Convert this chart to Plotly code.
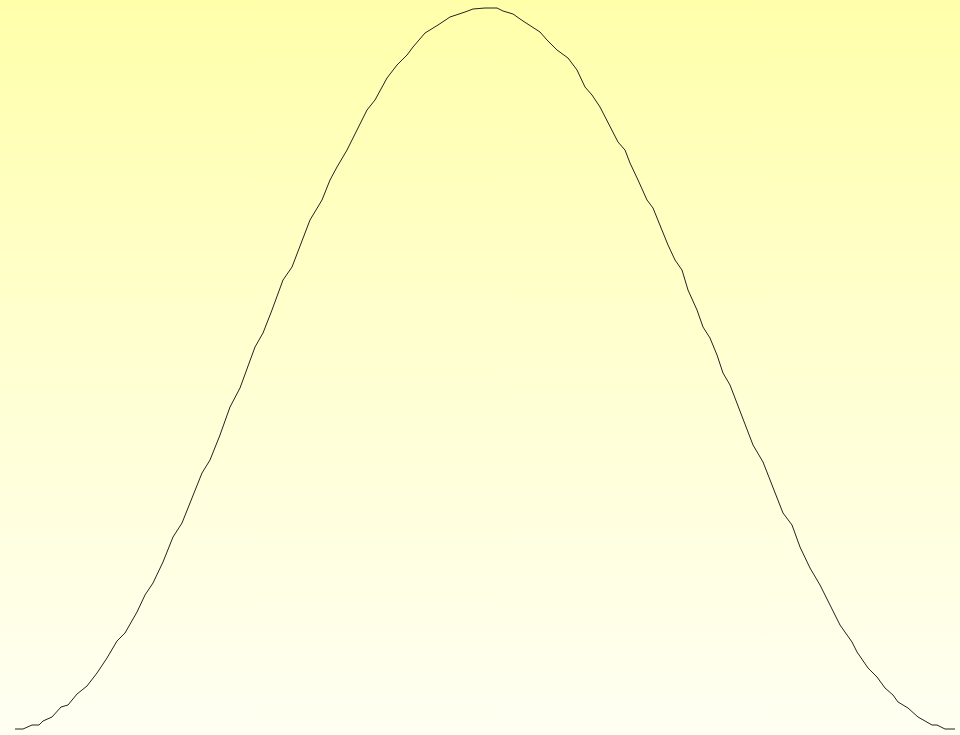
import plotly.graph_objects as go

# curve samples (x position, height above the bottom edge)
x_pos = [15, 23, 32, 39, 43, 52, 61, 68, 77, 87, 97, 107, 117, 125, 137, 145,
         153, 163, 173, 182, 192, 202, 210, 220, 230, 240, 255, 263, 272, 283,
         292, 300, 310, 322, 330, 337, 347, 357, 367, 375, 387, 397, 407, 413,
         425, 438, 450, 465, 473, 485, 497, 503, 513, 523, 533, 540, 547, 557,
         568, 577, 585, 592, 600, 608, 618, 625, 630, 638, 647, 653, 660, 668,
         675, 682, 688, 697, 703, 710, 717, 723, 730, 735, 743, 753, 763, 773,
         783, 792, 800, 810, 820, 830, 840, 852, 857, 868, 877, 885, 893, 898,
         908, 918, 932, 937, 945, 955]
heights = [6, 6, 10, 10, 14, 18, 28, 30, 41, 49, 62, 77, 94, 102, 123, 140,
           152, 173, 198, 212, 237, 262, 275, 300, 328, 347, 388, 402, 425, 455,
           468, 488, 515, 535, 555, 568, 585, 605, 625, 635, 657, 670, 680, 688,
           702, 710, 718, 723, 726, 727, 727, 724, 721, 714, 708, 703, 695, 685,
           677, 665, 648, 640, 628, 612, 593, 585, 572, 555, 535, 527, 510, 490,
           475, 465, 445, 425, 408, 397, 380, 362, 350, 337, 317, 290, 273, 247,
           222, 210, 188, 167, 150, 130, 110, 93, 83, 67, 58, 47, 40, 33, 27, 18,
           10, 10, 6, 6]

W, H = 960, 735

fig = go.Figure()

# background: vertical gradient, pale cream at the bottom to soft yellow at the top
fig.add_trace(go.Scatter(
    x=[0, W, W, 0, 0], y=[0, 0, H, H, 0],
    mode="lines", line=dict(width=0),
    fill="toself",
    fillgradient=dict(type="vertical",
                      colorscale=[[0, "#FFFFF2"], [0.5, "#FFFFD2"], [1, "#FFFFAA"]]),
    hoverinfo="skip", showlegend=False,
))

fig.add_trace(go.Scatter(
    x=x_pos, y=heights, mode="lines",
    line=dict(color="#222222", width=1),
    showlegend=False,
))

fig.update_layout(
    width=W, height=H,
    margin=dict(l=0, r=0, t=0, b=0),
    paper_bgcolor="#FFFFF2",
    plot_bgcolor="#FFFFF2",
    xaxis=dict(range=[0, W], visible=False, fixedrange=True),
    yaxis=dict(range=[0, H], visible=False, fixedrange=True),
)

# drop the page's default body margin so the chart fills the window
fig.write_html("out.html", config={"displayModeBar": False},
               post_script="document.body.style.margin='0';"
                           "document.body.style.overflow='hidden';")
